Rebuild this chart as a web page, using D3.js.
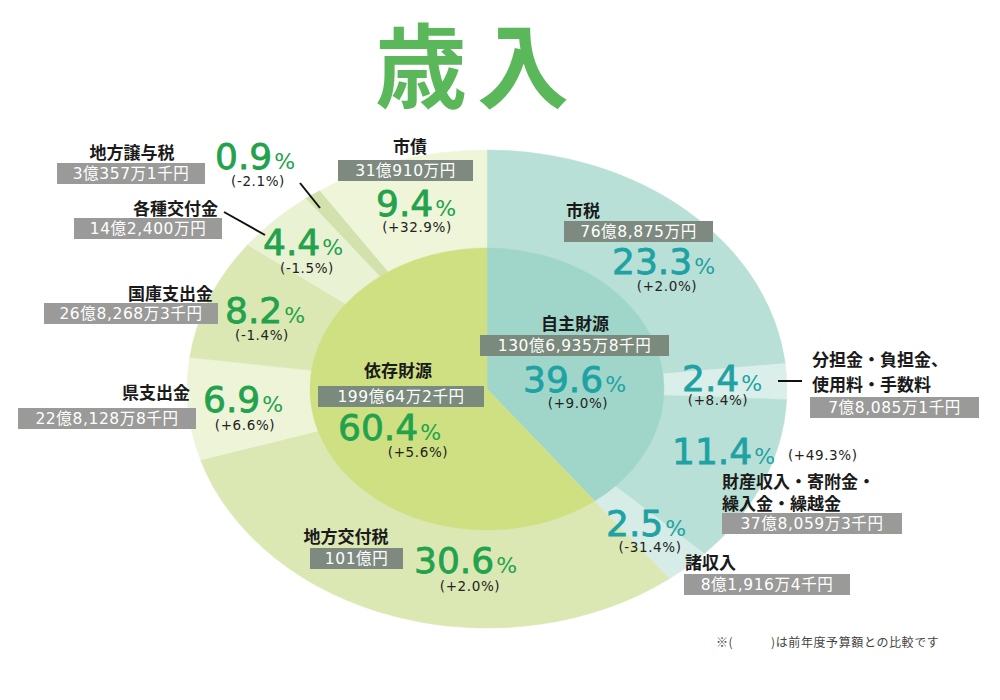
<!DOCTYPE html>
<html lang="ja">
<head>
<meta charset="utf-8">
<script src="https://cdn.jsdelivr.net/npm/d3@7"></script>
<style>
  html, body { margin: 0; padding: 0; background: #fff; }
  svg { display: block; font-family: "Noto Sans CJK JP", "Noto Sans", sans-serif; }
  .name { font-weight: 700; font-size: 17px; fill: #1a1a1a; }
  .amt { font-size: 15.5px; fill: #fff; font-family: "DejaVu Sans", "Noto Sans CJK JP", sans-serif; letter-spacing: 0.6px; }
  .chg { font-size: 13.5px; fill: #222; font-family: "DejaVu Sans", sans-serif; letter-spacing: 0.6px; }
  .num { font-family: "DejaVu Sans", sans-serif; }
</style>
</head>
<body>
<svg id="chart" width="1000" height="700"></svg>
<script>
// inner ring (財源)
var groups = ['自主財源', '依存財源'];
var groupAmounts = ['130億6,935万8千円', '199億64万2千円'];
var groupPct = [39.6, 60.4];
var groupChange = ['(+9.0%)', '(+5.6%)'];

// outer ring (内訳)
var items = ['市税', '分担金・負担金、|使用料・手数料', '財産収入・寄附金・|繰入金・繰越金', '諸収入',
             '地方交付税', '県支出金', '国庫支出金', '各種交付金', '地方譲与税', '市債'];
var itemGroup = [0, 0, 0, 0, 1, 1, 1, 1, 1, 1];
var itemAmounts = ['76億8,875万円', '7億8,085万1千円', '37億8,059万3千円', '8億1,916万4千円',
                   '101億円', '22億8,128万8千円', '26億8,268万3千円', '14億2,400万円', '3億357万1千円', '31億910万円'];
var itemPct = [23.3, 2.4, 11.4, 2.5, 30.6, 6.9, 8.2, 4.4, 0.9, 9.4];
var itemChange = ['(+2.0%)', '(+8.4%)', '(+49.3%)', '(-31.4%)', '(+2.0%)', '(+6.6%)', '(-1.4%)', '(-1.5%)', '(-2.1%)', '(+32.9%)'];

var title = '歳入';
var footnote = '※(　　　)は前年度予算額との比較です';

// styling
var groupColors = ['#a0d6c9', '#cfe082'];
var itemColors = ['#b9e0d6', '#dbefea', '#b9e0d6', '#d6ece6',
                  '#dce8b4', '#edf4d8', '#dce8b4', '#e9f2d2', '#d3e2ac', '#eef5d8'];
var pctColors = ['#1ea2a4', '#22a24c'];

// label placement: name, amount box, percent, change
var itemLayout = [
  { nx: 566, ny: 217, na: 'start',  bx: 564, by: 221, bw: 149, px: 612, py: 274, cx: 667, cy: 291, ca: 'middle' },
  { nx: 812, ny: 366, na: 'start',  bx: 810, by: 397, bw: 169, px: 682, py: 391, cx: 718, cy: 405, ca: 'middle', lh: 25 },
  { nx: 722, ny: 488, na: 'start',  bx: 722, by: 513, bw: 180, px: 672, py: 464, cx: 788, cy: 460, ca: 'start', lh: 22 },
  { nx: 685, ny: 569, na: 'start',  bx: 684, by: 574, bw: 166, px: 606, py: 536, cx: 650, cy: 552, ca: 'middle' },
  { nx: 346, ny: 543, na: 'middle', bx: 310, by: 548, bw: 93,  px: 414, py: 573, cx: 470, cy: 591, ca: 'middle' },
  { nx: 190, ny: 399, na: 'end',    bx: 18,  by: 408, bw: 178, px: 203, py: 412, cx: 245, cy: 430, ca: 'middle' },
  { nx: 213, ny: 300, na: 'end',    bx: 44,  by: 303, bw: 174, px: 225, py: 323, cx: 262, cy: 340, ca: 'middle' },
  { nx: 218, ny: 215, na: 'end',    bx: 74,  by: 218, bw: 148, px: 263, py: 255, cx: 307, cy: 273, ca: 'middle' },
  { nx: 132, ny: 159, na: 'middle', bx: 57,  by: 163, bw: 148, px: 215, py: 169, cx: 258, cy: 186, ca: 'middle' },
  { nx: 410, ny: 153, na: 'middle', bx: 338, by: 160, bw: 135, px: 376, py: 216, cx: 417, cy: 232, ca: 'middle' }
];
var groupLayout = [
  { nx: 575, ny: 330, na: 'middle', bx: 480, by: 335, bw: 189, px: 523, py: 392, cx: 578, cy: 408, ca: 'middle' },
  { nx: 398, ny: 377, na: 'middle', bx: 318, by: 386, bw: 166, px: 338, py: 440, cx: 418, cy: 457, ca: 'middle' }
];
var leaders = [
  [[778, 381], [802, 381]],
  [[224, 212], [265, 235]],
  [[300, 183], [320, 208]]
];

var svg = d3.select('#chart');
var center = [487, 389], R = 300, r0 = 177, squash = 0.797;

svg.append('text')
    .attr('x', 477).attr('y', 101)
    .attr('text-anchor', 'middle')
    .style('font-size', '92px')
    .style('font-weight', 700)
    .style('letter-spacing', '10px')
    .style('fill', '#5bb85a')
    .text(title);

var pie = d3.pie().sort(null).value(function(d) { return d; });
var outerArc = d3.arc().innerRadius(r0 - 1).outerRadius(R);
var innerArc = d3.arc().innerRadius(0).outerRadius(r0);

// pie is drawn as a circle and squashed into an ellipse
var pieG = svg.append('g')
    .attr('transform', 'translate(' + center[0] + ',' + center[1] + ') scale(1,' + squash + ')');

pieG.selectAll('.outer')
    .data(pie(itemPct))
    .enter()
    .append('path')
      .attr('class', 'outer')
      .attr('d', outerArc)
      .style('fill', function(d, i) { return itemColors[i]; })
      .style('stroke', function(d, i) { return itemColors[i]; })
      .style('stroke-width', 0.5);

pieG.selectAll('.inner')
    .data(pie(groupPct))
    .enter()
    .append('path')
      .attr('class', 'inner')
      .attr('d', innerArc)
      .style('fill', function(d, i) { return groupColors[i]; })
      .style('stroke', function(d, i) { return groupColors[i]; })
      .style('stroke-width', 0.5);

svg.selectAll('.leader')
    .data(leaders)
    .enter()
    .append('path')
      .attr('class', 'leader')
      .attr('d', d3.line())
      .style('stroke', '#111')
      .style('stroke-width', 2)
      .style('fill', 'none');

function drawLabel(L, name, amount, pct, change, color, boxColor) {
  var g = svg.append('g');
  var lines = name.split('|');
  var nt = g.append('text')
      .attr('class', 'name')
      .attr('text-anchor', L.na);
  lines.forEach(function(s, k) {
    nt.append('tspan')
        .attr('x', L.nx)
        .attr('y', L.ny + k * (L.lh || 0))
        .text(s);
  });

  g.append('rect')
      .attr('x', L.bx).attr('y', L.by)
      .attr('width', L.bw).attr('height', 21)
      .style('fill', boxColor);
  g.append('text')
      .attr('class', 'amt')
      .attr('x', L.bx + L.bw / 2).attr('y', L.by + 16)
      .attr('text-anchor', 'middle')
      .text(amount);

  var pt = g.append('text')
      .attr('class', 'num')
      .attr('x', L.px).attr('y', L.py)
      .style('fill', color);
  // a thin stroke makes the digits a bit heavier, like the original
  pt.append('tspan')
      .style('font-size', '36px')
      .style('stroke', color)
      .style('stroke-width', 0.8)
      .text(d3.format('.1f')(pct));
  pt.append('tspan')
      .attr('dx', 2)
      .style('font-size', '22px')
      .text('%');

  g.append('text')
      .attr('class', 'chg')
      .attr('x', L.cx).attr('y', L.cy)
      .attr('text-anchor', L.ca)
      .text(change);
}

items.forEach(function(name, i) {
  var L = itemLayout[i];
  var inside = (i === 0 || i === 4 || i === 9);
  drawLabel(L, name, itemAmounts[i], itemPct[i], itemChange[i],
            pctColors[itemGroup[i]], inside ? '#7e8a80' : '#9a9a98');
});
groups.forEach(function(name, i) {
  drawLabel(groupLayout[i], name, groupAmounts[i], groupPct[i], groupChange[i],
            pctColors[i], '#7a8a7c');
});

svg.append('text')
    .attr('x', 716).attr('y', 647)
    .style('font-size', '12px')
    .style('letter-spacing', '0.6px')
    .style('fill', '#444')
    .text(footnote);
</script>
</body>
</html>
